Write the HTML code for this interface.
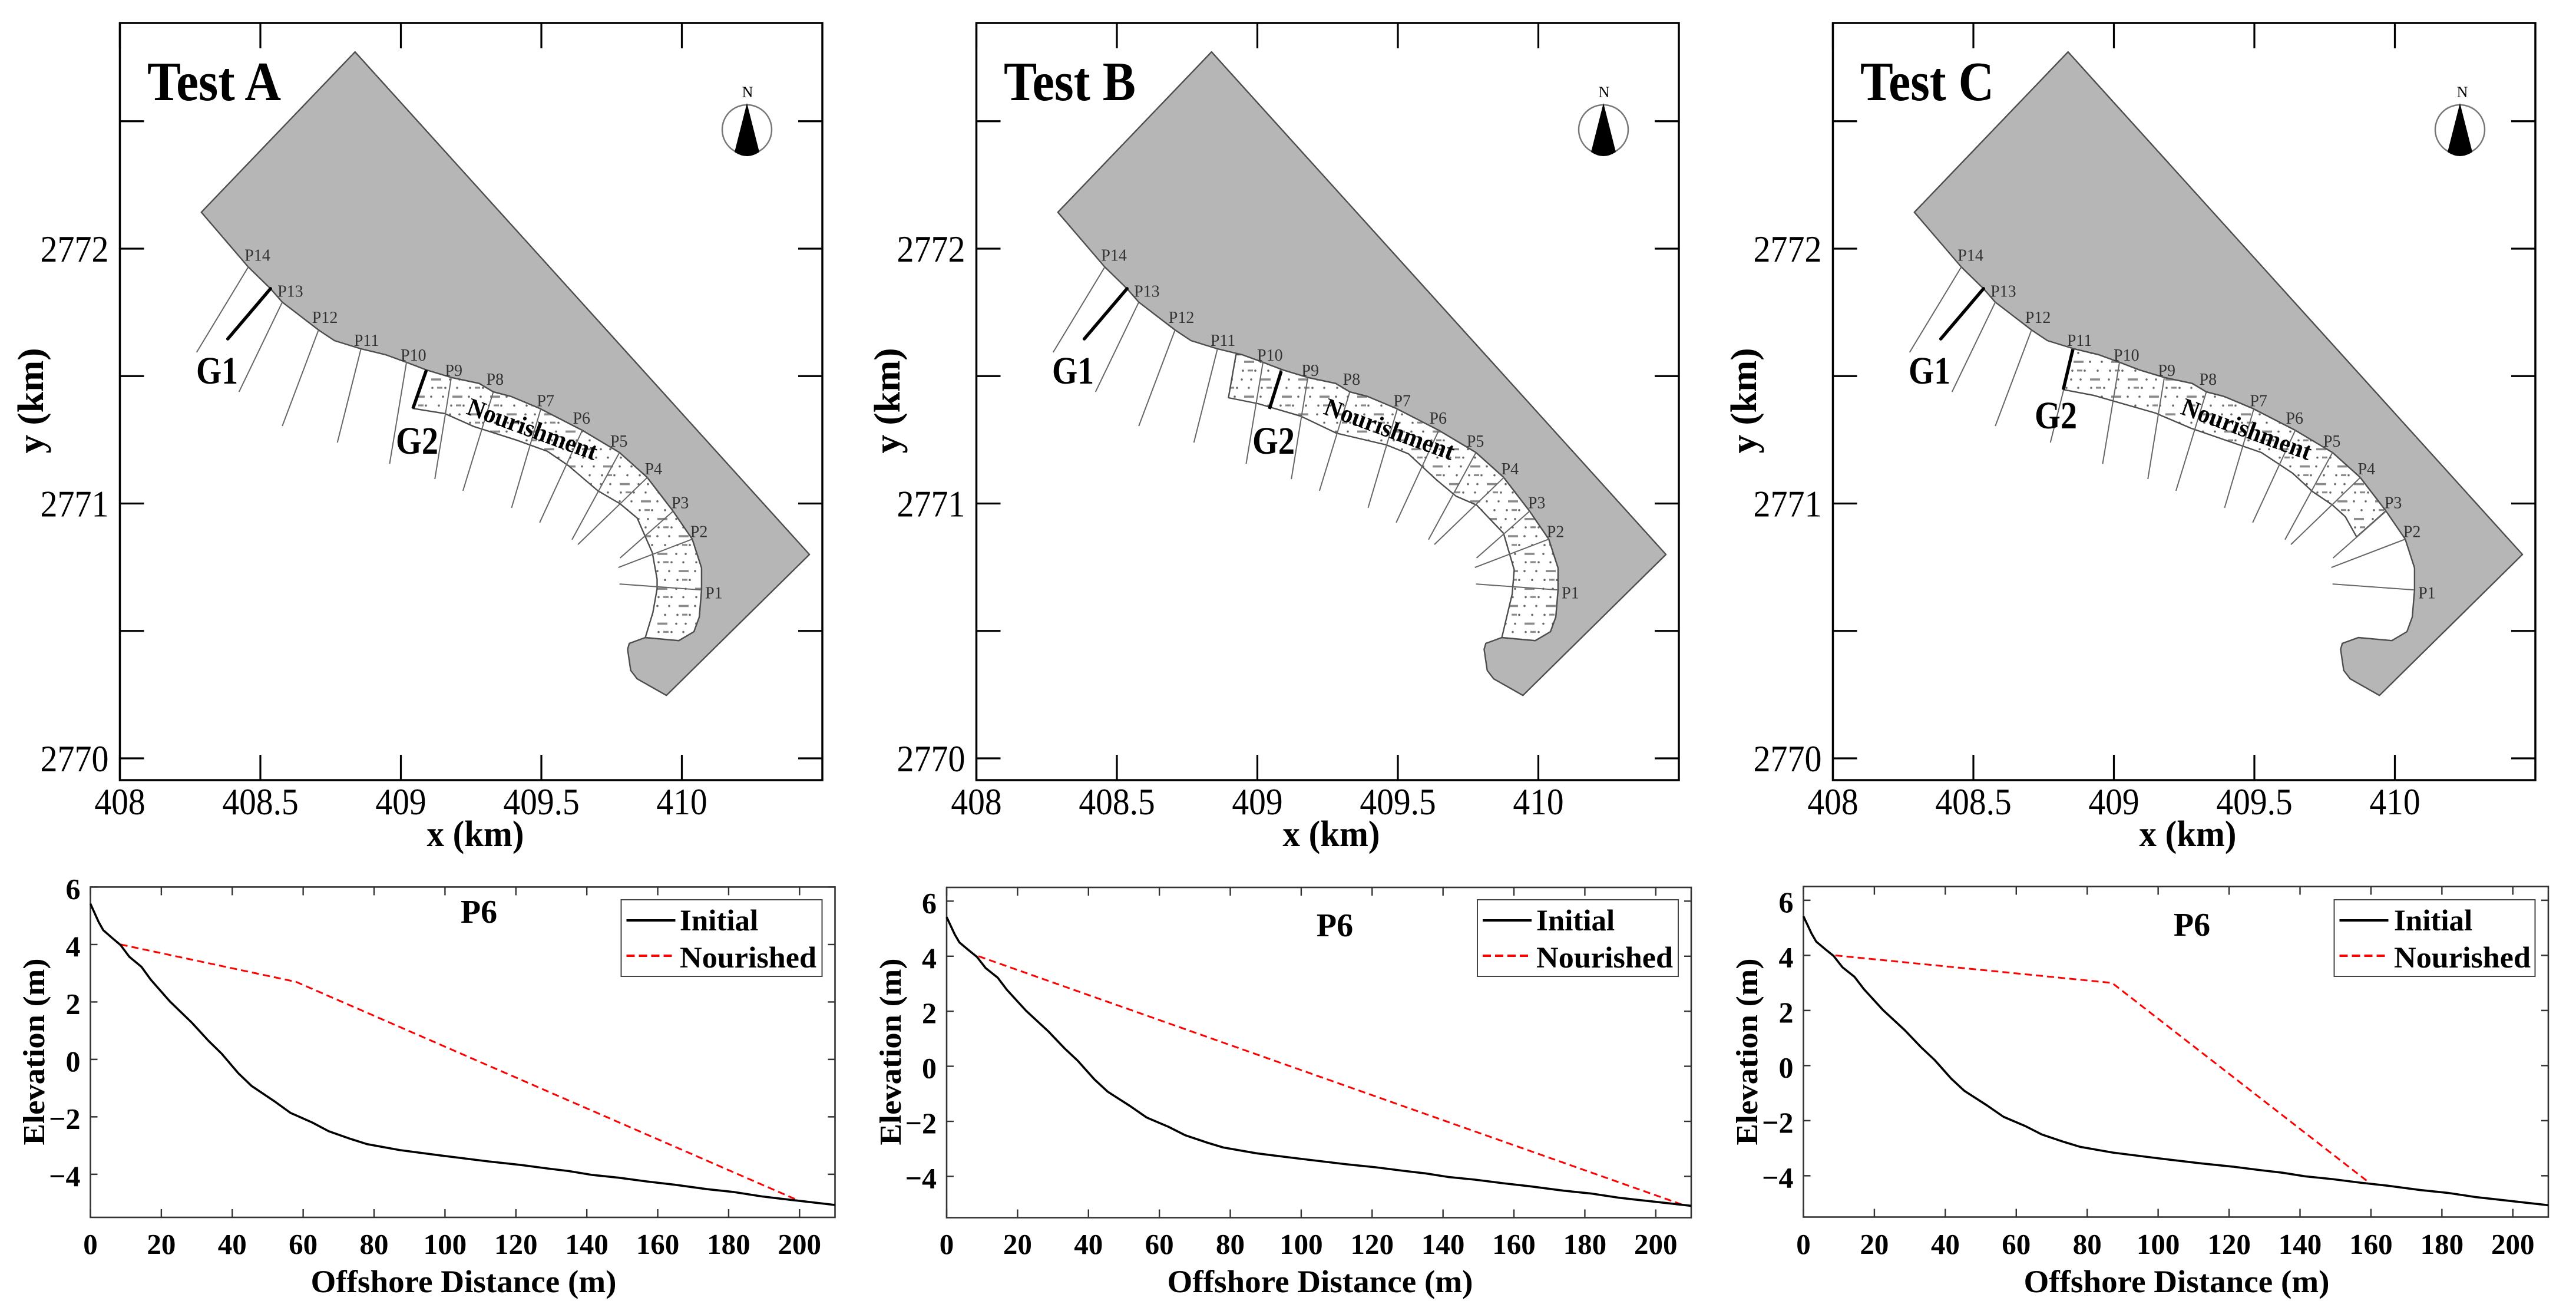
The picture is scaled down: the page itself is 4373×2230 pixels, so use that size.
<!DOCTYPE html>
<html lang="en">
<head>
<meta charset="utf-8">
<title>Beach nourishment tests A, B, C</title>
<style>
html,body{margin:0;padding:0;background:#fff;width:4373px;height:2230px;overflow:hidden}
svg{display:block;position:absolute;left:0;top:0}
text{font-family:"Liberation Serif","Times New Roman",serif;fill:#000}
.b{font-weight:bold}
</style>
</head>
<body>
<svg id="figure" xmlns="http://www.w3.org/2000/svg" width="4373" height="2230" viewBox="0 0 4373 2230">
<defs>
<pattern id="hatch" patternUnits="userSpaceOnUse" width="64" height="59.2">
<rect width="64" height="59.2" fill="#fff"/>
<g fill="#666">
<circle cx="8" cy="7" r="1.8"/><circle cx="30" cy="7" r="1.8"/><circle cx="52" cy="7" r="1.8"/>
<circle cx="28" cy="22" r="1.8"/><circle cx="48" cy="22" r="1.8"/>
<circle cx="19" cy="37" r="1.8"/><circle cx="41" cy="37" r="1.8"/><circle cx="62" cy="37" r="1.8"/>
<circle cx="12" cy="52" r="1.8"/><circle cx="60" cy="52" r="1.8"/>
</g>
<g fill="#8a8a8a">
<rect x="0" y="20.2" width="17" height="3.6"/><rect x="28" y="50.2" width="17" height="3.6"/>
<rect x="38" y="5.2" width="9" height="3.2"/><rect x="6" y="35.2" width="9" height="3.2"/>
</g>
</pattern>
</defs>
<rect width="4373" height="2230" fill="#fff"/>
<g id="layer-maps"></g>
<g id="layer-profiles"></g>

<!-- Panel A labels -->
<g>
<text class="b" x="250" y="170" font-size="94" textLength="227" lengthAdjust="spacingAndGlyphs">Test A</text>
<text class="b" x="333" y="651" font-size="66" textLength="71" lengthAdjust="spacingAndGlyphs">G1</text>
<text class="b" x="672" y="770" font-size="66" textLength="72" lengthAdjust="spacingAndGlyphs">G2</text>
<text class="b" font-size="43" textLength="232" lengthAdjust="spacingAndGlyphs" transform="translate(790,702) rotate(20)">Nourishment</text>
<text class="b" x="807" y="1436" font-size="62" text-anchor="middle" textLength="165" lengthAdjust="spacingAndGlyphs">x (km)</text>
<text class="b" font-size="62" text-anchor="middle" textLength="179" lengthAdjust="spacingAndGlyphs" transform="translate(73,680) rotate(-90)">y (km)</text>
<text x="1269" y="165" font-size="26" text-anchor="middle" fill="#333">N</text>
<text class="b" x="813" y="1566" font-size="56" text-anchor="middle">P6</text>
<text class="b" x="1154" y="1579" font-size="51">Initial</text>
<text class="b" x="1154" y="1642" font-size="51" textLength="232" lengthAdjust="spacingAndGlyphs">Nourished</text>
<text class="b" x="787" y="2193" font-size="54" text-anchor="middle" textLength="519" lengthAdjust="spacingAndGlyphs">Offshore Distance (m)</text>
<text class="b" font-size="52" text-anchor="middle" textLength="317" lengthAdjust="spacingAndGlyphs" transform="translate(75,1785) rotate(-90)">Elevation (m)</text>
</g>

<!-- Panel B labels -->
<g>
<text class="b" x="1704" y="170" font-size="94" textLength="224" lengthAdjust="spacingAndGlyphs">Test B</text>
<text class="b" x="1786" y="651" font-size="66" textLength="71" lengthAdjust="spacingAndGlyphs">G1</text>
<text class="b" x="2126" y="770" font-size="66" textLength="72" lengthAdjust="spacingAndGlyphs">G2</text>
<text class="b" font-size="43" textLength="232" lengthAdjust="spacingAndGlyphs" transform="translate(2245,702) rotate(20)">Nourishment</text>
<text class="b" x="2260" y="1436" font-size="62" text-anchor="middle" textLength="165" lengthAdjust="spacingAndGlyphs">x (km)</text>
<text class="b" font-size="62" text-anchor="middle" textLength="179" lengthAdjust="spacingAndGlyphs" transform="translate(1527,680) rotate(-90)">y (km)</text>
<text x="2723" y="165" font-size="26" text-anchor="middle" fill="#333">N</text>
<text class="b" x="2266" y="1589" font-size="56" text-anchor="middle">P6</text>
<text class="b" x="2608" y="1579" font-size="51">Initial</text>
<text class="b" x="2608" y="1642" font-size="51" textLength="232" lengthAdjust="spacingAndGlyphs">Nourished</text>
<text class="b" x="2241" y="2193" font-size="54" text-anchor="middle" textLength="519" lengthAdjust="spacingAndGlyphs">Offshore Distance (m)</text>
<text class="b" font-size="52" text-anchor="middle" textLength="317" lengthAdjust="spacingAndGlyphs" transform="translate(1529,1785) rotate(-90)">Elevation (m)</text>
</g>

<!-- Panel C labels -->
<g>
<text class="b" x="3158" y="170" font-size="94" textLength="227" lengthAdjust="spacingAndGlyphs">Test C</text>
<text class="b" x="3240" y="651" font-size="66" textLength="71" lengthAdjust="spacingAndGlyphs">G1</text>
<text class="b" x="3454" y="727" font-size="66" textLength="72" lengthAdjust="spacingAndGlyphs">G2</text>
<text class="b" font-size="43" textLength="232" lengthAdjust="spacingAndGlyphs" transform="translate(3700,702) rotate(20)">Nourishment</text>
<text class="b" x="3714" y="1436" font-size="62" text-anchor="middle" textLength="165" lengthAdjust="spacingAndGlyphs">x (km)</text>
<text class="b" font-size="62" text-anchor="middle" textLength="179" lengthAdjust="spacingAndGlyphs" transform="translate(2981,680) rotate(-90)">y (km)</text>
<text x="4180" y="165" font-size="26" text-anchor="middle" fill="#333">N</text>
<text class="b" x="3721" y="1588" font-size="56" text-anchor="middle">P6</text>
<text class="b" x="4064" y="1579" font-size="51">Initial</text>
<text class="b" x="4064" y="1642" font-size="51" textLength="232" lengthAdjust="spacingAndGlyphs">Nourished</text>
<text class="b" x="3695" y="2193" font-size="54" text-anchor="middle" textLength="519" lengthAdjust="spacingAndGlyphs">Offshore Distance (m)</text>
<text class="b" font-size="52" text-anchor="middle" textLength="317" lengthAdjust="spacingAndGlyphs" transform="translate(2983,1785) rotate(-90)">Elevation (m)</text>
</g>
</svg>

<script>
// ---------- data: map (km) ----------
var landX = [408.837,410.454,409.945,409.841,409.818,409.807,409.813,409.870,409.989,410.043,410.062,410.070,410.070,410.037,409.968,409.876,409.778,409.644,409.494,409.392,409.329,409.279,409.181,409.091,409.020,408.945,408.858,408.764,408.707,408.578,408.536,408.457,408.290];
var landY = [2772.772,2770.800,2770.247,2770.312,2770.345,2770.428,2770.451,2770.474,2770.462,2770.497,2770.555,2770.661,2770.747,2770.860,2770.971,2771.103,2771.200,2771.288,2771.373,2771.420,2771.438,2771.471,2771.494,2771.524,2771.554,2771.584,2771.607,2771.639,2771.681,2771.790,2771.843,2771.928,2772.143];

var profileNames = ['P1','P2','P3','P4','P5','P6','P7','P8','P9','P10','P11','P12','P13','P14'];
var profileShoreX = [410.068,410.037,409.970,409.878,409.778,409.646,409.498,409.329,409.179,409.020,408.858,408.707,408.578,408.457];
var profileShoreY = [2770.661,2770.860,2770.971,2771.103,2771.200,2771.288,2771.371,2771.438,2771.491,2771.554,2771.607,2771.681,2771.790,2771.928];
var profileEndX = [409.778,409.774,409.780,409.630,409.609,409.494,409.394,409.221,409.121,408.960,408.774,408.578,408.424,408.273];
var profileEndY = [2770.684,2770.749,2770.786,2770.839,2770.858,2770.925,2770.983,2771.050,2771.096,2771.156,2771.239,2771.304,2771.438,2771.593];
var profileLabelX = [410.083,410.030,409.963,409.868,409.745,409.612,409.484,409.304,409.157,408.999,408.833,408.684,408.561,408.444];
var profileLabelY = [2770.628,2770.868,2770.982,2771.114,2771.223,2771.313,2771.381,2771.466,2771.501,2771.561,2771.619,2771.709,2771.811,2771.953];

var nourishedOffshoreAX = [409.043,409.156,409.260,409.411,409.521,409.596,409.701,409.780,409.841,409.895,409.912,409.912,409.897];
var nourishedOffshoreAY = [2771.373,2771.353,2771.302,2771.249,2771.205,2771.149,2771.050,2770.999,2770.943,2770.807,2770.703,2770.666,2770.573];
var nourishedOffshoreBX = [408.924,408.897,409.002,409.154,409.281,409.459,409.538,409.636,409.707,409.780,409.876,409.914,409.907];
var nourishedOffshoreBY = [2771.584,2771.415,2771.392,2771.343,2771.276,2771.230,2771.195,2771.094,2771.029,2770.994,2770.883,2770.740,2770.645];
var nourishedOffshoreCX = [408.820,408.929,409.148,409.275,409.525,409.636,409.707,409.778,409.824,409.864];
var nourishedOffshoreCY = [2771.447,2771.424,2771.355,2771.295,2771.200,2771.119,2771.047,2770.994,2770.948,2770.869];

var groin1X = [408.536,408.384];
var groin1Y = [2771.843,2771.646];
var groin2AX = [409.091,409.043];
var groin2AY = [2771.524,2771.373];
var groin2BX = [409.085,409.043];
var groin2BY = [2771.519,2771.371];
var groin2CX = [408.854,408.820];
var groin2CY = [2771.605,2771.447];

var mapXTicks = [408,408.5,409,409.5,410];
var mapXTickLabels = ['408','408.5','409','409.5','410'];
var mapYTicks = [2770,2770.5,2771,2771.5,2772,2772.5];
var mapYTickLabels = ['2770','','2771','','2772',''];

// ---------- data: profiles ----------
var initialX = [0,2.3,3.6,6.2,8.5,11,14.4,17,22.4,28.6,33.2,37,41.7,45.4,51.8,56.4,62.6,67.2,73.4,78,87.3,99.7,112,121,129,135,141.4,149,157,164.6,174,181.6,189.3,194,201,210];
var initialY = [5.42,4.79,4.5,4.22,3.98,3.57,3.22,2.78,2.02,1.28,0.66,0.2,-0.48,-0.92,-1.45,-1.86,-2.2,-2.5,-2.77,-2.95,-3.16,-3.36,-3.55,-3.67,-3.8,-3.89,-4.02,-4.12,-4.25,-4.36,-4.52,-4.62,-4.77,-4.84,-4.94,-5.07];
var nourishedAX = [8.5,58,200];
var nourishedAY = [4.0,2.7,-4.93];
var nourishedBX = [9,207.5];
var nourishedBY = [4.0,-5.03];
var nourishedCX = [9,87,160];
var nourishedCY = [4.0,3.0,-4.3];
var profXTicks = [0,20,40,60,80,100,120,140,160,180,200];
var profXTickLabels = ['0','20','40','60','80','100','120','140','160','180','200'];
var profYTicks = [-4,-2,0,2,4,6];
var profYTickLabels = ['\u22124','\u22122','0','2','4','6'];

// ---------- layout ----------
var NS = 'http://www.w3.org/2000/svg';
var mapLayer = document.getElementById('layer-maps');
var profLayer = document.getElementById('layer-profiles');

function make(tag, attrs, parent, txt) {
  var el = document.createElementNS(NS, tag);
  for (var k in attrs) el.setAttribute(k, attrs[k]);
  if (txt !== undefined) el.textContent = txt;
  parent.appendChild(el);
  return el;
}
function zip(xs, ys, fx, fy) {
  var out = [];
  for (var i = 0; i < xs.length; i++) out.push(fx(xs[i]).toFixed(1) + ',' + fy(ys[i]).toFixed(1));
  return out;
}
function labelWidth(s, em) {
  var w = 0;
  for (var i = 0; i < s.length; i++) w += (s[i] === '.' ? 0.25 : 0.5);
  return w * em;
}

var mapPanels = [
  {off:0,    ox:nourishedOffshoreAX, oy:nourishedOffshoreAY, from:7,  to:24, gx:groin2AX, gy:groin2AY, id:'a'},
  {off:1454, ox:nourishedOffshoreBX, oy:nourishedOffshoreBY, from:7,  to:26, gx:groin2BX, gy:groin2BY, id:'b'},
  {off:2908, ox:nourishedOffshoreCX, oy:nourishedOffshoreCY, from:14, to:27, gx:groin2CX, gy:groin2CY, id:'c'}
];

mapPanels.forEach(function (p) {
  var L = 203.5 + p.off, R = 1396 + p.off, T = 39, B = 1324;
  var sx = function (v) { return L + (v - 408) * 477; };
  var sy = function (v) { return 1287 - (v - 2770) * 432.5; };
  var g = make('g', {}, mapLayer);
  
  

  var land = make('polygon', {points: zip(landX, landY, sx, sy).join(' '), fill:'#b6b6b6', stroke:'#4d4d4d', 'stroke-width':2.4, 'stroke-linejoin':'round'}, g);
  
  

  var shore = zip(landX.slice(p.from, p.to), landY.slice(p.from, p.to), sx, sy);
  var off = zip(p.ox, p.oy, sx, sy);
  var nour = make('polygon', {points: shore.concat(off).join(' '), fill:'url(#hatch)', stroke:'#4d4d4d', 'stroke-width':2.4, 'stroke-linejoin':'round'}, g);
  
  

  profileNames.forEach(function (name, i) {
    var ln = make('line', {x1:sx(profileShoreX[i]), y1:sy(profileShoreY[i]), x2:sx(profileEndX[i]), y2:sy(profileEndY[i]), stroke:'#666', 'stroke-width':2}, g);
    
    
    var tx = make('text', {x:sx(profileLabelX[i]), y:sy(profileLabelY[i]), 'font-size':28, style:'fill:#333'}, g, name);
    
    
  });

  var g1 = make('polyline', {points: zip(groin1X, groin1Y, sx, sy).join(' '), fill:'none', stroke:'#000', 'stroke-width':5.5, 'stroke-linecap':'round'}, g);
  
  
  var g2 = make('polyline', {points: zip(p.gx, p.gy, sx, sy).join(' '), fill:'none', stroke:'#000', 'stroke-width':5.5}, g);
  
  

  var frame = make('rect', {x:L, y:T, width:R - L, height:B - T, fill:'none', stroke:'#000', 'stroke-width':3.5}, g);
  
  

  mapXTicks.forEach(function (v, i) {
    var x = sx(v);
    var t1 = make('path', {d:'M' + x + ' ' + B + 'v-43M' + x + ' ' + T + 'v43', stroke:'#000', 'stroke-width':3.2, fill:'none'}, g);
    
    
    var s = mapXTickLabels[i];
    var lb = make('text', {x:x, y:1382, 'font-size':64, 'text-anchor':'middle', textLength:labelWidth(s, 57.5), lengthAdjust:'spacingAndGlyphs'}, g, s);
    
    
  });
  mapYTicks.forEach(function (v, i) {
    var y = sy(v);
    var t2 = make('path', {d:'M' + L + ' ' + y + 'h41M' + R + ' ' + y + 'h-41', stroke:'#000', 'stroke-width':3.2, fill:'none'}, g);
    
    
    var s = mapYTickLabels[i];
    if (s) {
      var lb = make('text', {x:L - 19, y:y + 22, 'font-size':64, 'text-anchor':'end', textLength:labelWidth(s, 58), lengthAdjust:'spacingAndGlyphs'}, g, s);
      
      
    }
  });

  var cx = 1268 + p.off, cy = 220;
  var circ = make('circle', {cx:cx, cy:cy, r:42, fill:'#fff', stroke:'#777', 'stroke-width':2.5}, g);
  
  
  var needle = make('path', {d:'M' + cx + ' 175L' + (cx - 21) + ' 258Q' + cx + ' 272 ' + (cx + 21) + ' 258Z', fill:'#000'}, g);
  
  
});

var profPanels = [
  {L:153.5,  R:1417.5, T:1505.4, B:2066,   ymax:6,   nx:nourishedAX, ny:nourishedAY, id:'a'},
  {L:1607,   R:2871,   T:1506,   B:2066.5, ymax:6.5, nx:nourishedBX, ny:nourishedBY, id:'b'},
  {L:3061.5, R:4326,   T:1504.5, B:2065.5, ymax:6.5, nx:nourishedCX, ny:nourishedCY, id:'c'}
];

profPanels.forEach(function (p) {
  var sx = function (v) { return p.L + v * (p.R - p.L) / 210; };
  var sy = function (v) { return p.T + (p.ymax - v) * (p.B - p.T) / (p.ymax + 5.5); };
  var g = make('g', {}, profLayer);
  
  

  var frame = make('rect', {x:p.L, y:p.T, width:p.R - p.L, height:p.B - p.T, fill:'none', stroke:'#333', 'stroke-width':2.6}, g);
  
  

  profXTicks.forEach(function (v, i) {
    var x = sx(v);
    var t = make('path', {d:'M' + x + ' ' + p.B + 'v-14M' + x + ' ' + p.T + 'v14', stroke:'#333', 'stroke-width':2.4, fill:'none'}, g);
    
    
    var lb = make('text', {x:x, y:2128, 'font-size':49, 'font-weight':'bold', 'text-anchor':'middle'}, g, profXTickLabels[i]);
    
    
  });
  profYTicks.forEach(function (v, i) {
    var y = sy(v);
    var t = make('path', {d:'M' + p.L + ' ' + y + 'h12M' + p.R + ' ' + y + 'h-12', stroke:'#333', 'stroke-width':2.4, fill:'none'}, g);
    
    
    var lb = make('text', {x:p.L - 17, y:y + 20, 'font-size':50, 'font-weight':'bold', 'text-anchor':'end'}, g, profYTickLabels[i]);
    
    
  });

  var nour = make('polyline', {points: zip(p.nx, p.ny, sx, sy).join(' '), fill:'none', stroke:'#f00', 'stroke-width':3, 'stroke-dasharray':'12 7'}, g);
  
  
  var init = make('polyline', {points: zip(initialX, initialY, sx, sy).join(' '), fill:'none', stroke:'#000', 'stroke-width':3.6, 'stroke-linejoin':'round'}, g);
  
  

  var bx = p.L + 901;
  var box = make('rect', {x:bx, y:1527, width:341, height:130, fill:'#fff', stroke:'#444', 'stroke-width':2}, g);
  
  
  var k1 = make('line', {x1:bx + 9, x2:bx + 92, y1:1562, y2:1562, stroke:'#000', 'stroke-width':4}, g);
  
  
  var k2 = make('line', {x1:bx + 9, x2:bx + 86, y1:1622, y2:1622, stroke:'#f00', 'stroke-width':4, 'stroke-dasharray':'14 7'}, g);
  
  
});
</script>
</body>
</html>
